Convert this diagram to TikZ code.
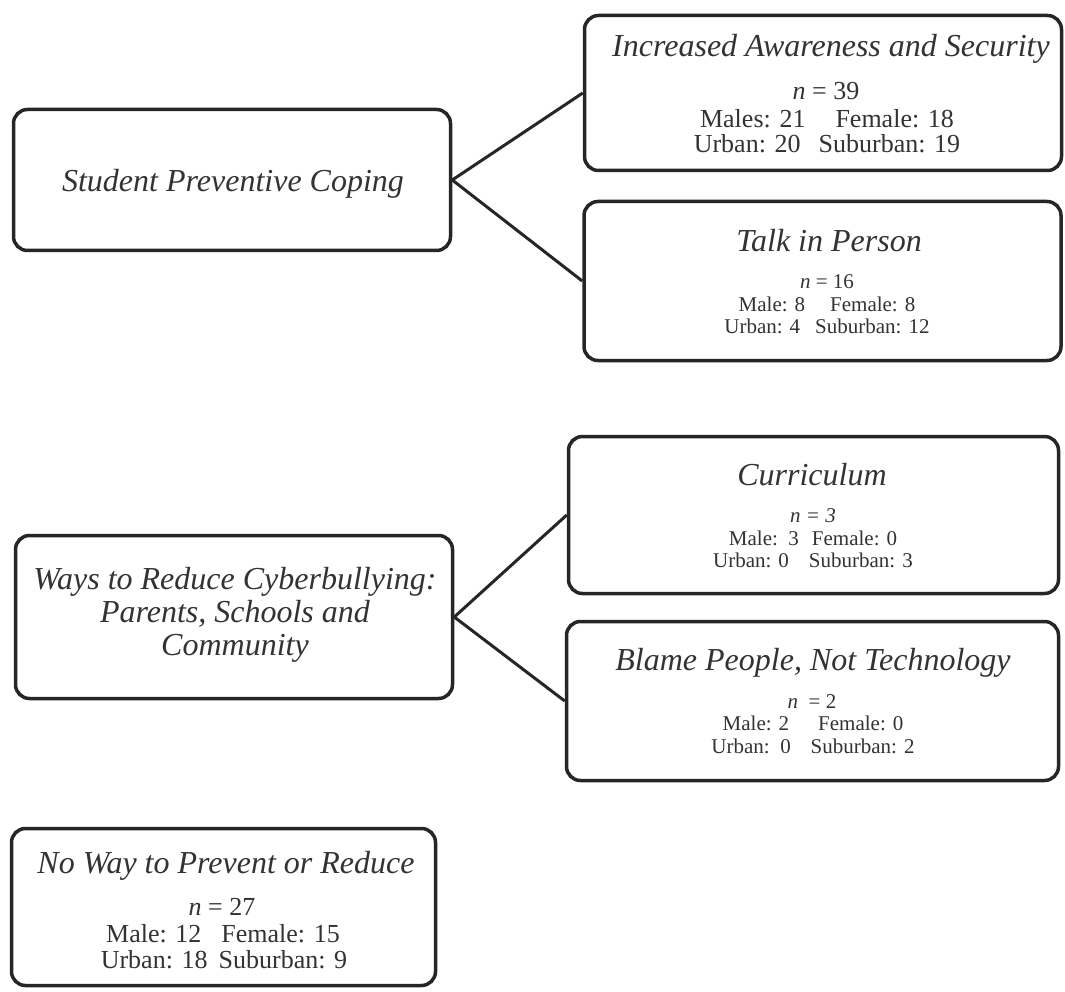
\documentclass[tikz,border=0pt]{standalone}
\usepackage{fontspec}
\setmainfont{Liberation Serif}
\begin{document}
\begin{tikzpicture}[x=1pt,y=-1pt,
  box/.style={draw=black!85, line width=3.5pt, rounded corners=14pt, inner sep=0pt, fill=white},
  conn/.style={draw=black!85, line width=3pt},
  ttl/.style={font=\fontsize{32}{34}\selectfont\itshape, text=black!80, anchor=base, inner sep=0pt},
  sbig/.style={font=\fontsize{26}{27}\selectfont, text=black!80, anchor=base, inner sep=0pt},
  ssmall/.style={font=\fontsize{21}{22}\selectfont, text=black!80, anchor=base, inner sep=0pt}]
\useasboundingbox (0,0) rectangle (1065,992);
% boxes
\node[box, minimum width=437pt, minimum height=141pt] (spc) at (232,180) {};
\node[box, minimum width=477pt, minimum height=155pt] (ias) at (823,93) {};
\node[box, minimum width=477pt, minimum height=159pt] (tip) at (822.5,281) {};
\node[box, minimum width=490pt, minimum height=157pt] (cur) at (813.5,515) {};
\node[box, minimum width=492pt, minimum height=159pt] (bla) at (812.5,701) {};
\node[box, minimum width=437pt, minimum height=163pt] (way) at (234,617) {};
\node[box, minimum width=424pt, minimum height=157pt] (now) at (223.5,907) {};
% connectors
\draw[conn] (spc.east) -- (ias.west);
\draw[conn] (spc.east) -- (tip.west);
\draw[conn] (way.east) -- (cur.west);
\draw[conn] (way.east) -- (bla.west);
% Student Preventive Coping
\node[ttl] (spcT) at (233,192) {Student Preventive Coping};
% Increased Awareness and Security
\node[ttl] (iasT) at (831,57) {Increased Awareness and Security};
\node[sbig] (iasN) at (826,100) {\textit{n} = 39};
\node[sbig] (iasG) at (827,128) {Males: 21\hspace{30pt}Female: 18};
\node[sbig] (iasU) at (827,153) {Urban: 20\hspace{18pt}Suburban: 19};
% Talk in Person
\node[ttl] (tipT) at (829,252) {Talk in Person};
\node[ssmall] (tipN) at (827,288) {\textit{n} = 16};
\node[ssmall] (tipG) at (827,312) {Male: 8\hspace{25pt}Female: 8};
\node[ssmall] (tipU) at (827,333) {Urban: 4\hspace{15pt}Suburban: 12};
% Ways to Reduce
\node[ttl] (wayT1) at (235,589) {Ways to Reduce Cyberbullying:};
\node[ttl] (wayT2) at (235,622) {Parents, Schools and};
\node[ttl] (wayT3) at (235,655) {Community};
% Curriculum
\node[ttl] (curT) at (812,485) {Curriculum};
\node[ssmall] (curN) at (813,522) {\textit{n = 3}};
\node[ssmall] (curG) at (813,545) {Male:\ \ 3\hspace{13pt}Female: 0};
\node[ssmall] (curU) at (813,567) {Urban: 0\hspace{20pt}Suburban: 3};
% Blame People
\node[ttl] (blaT) at (813,670) {Blame People, Not Technology};
\node[ssmall] (blaN) at (812,708) {\textit{n}\ \ = 2};
\node[ssmall] (blaG) at (813,730) {Male: 2\hspace{29pt}Female: 0};
\node[ssmall] (blaU) at (813,753) {Urban:\ \ 0\hspace{20pt}Suburban: 2};
% No Way
\node[ttl] (nowT) at (226,873) {No Way to Prevent or Reduce};
\node[sbig] (nowN) at (222,915) {\textit{n} = 27};
\node[sbig] (nowG) at (223,942) {Male: 12\hspace{20pt}Female: 15};
\node[sbig] (nowU) at (224,968) {Urban: 18\hspace{11pt}Suburban: 9};
\end{tikzpicture}
\end{document}
